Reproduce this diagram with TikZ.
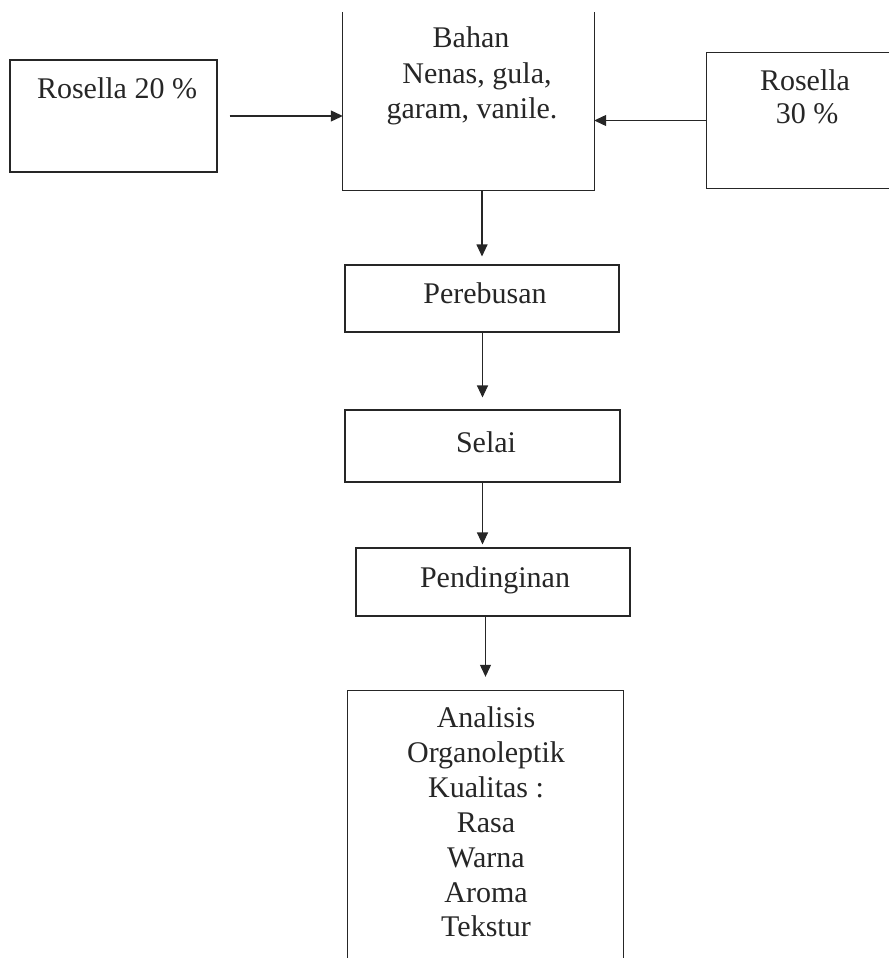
\documentclass[tikz,border=0pt]{standalone}
\usepackage{fontspec}
\setmainfont{Liberation Serif}
\usetikzlibrary{arrows.meta}
\definecolor{ink}{HTML}{262626}
\begin{document}
\begin{tikzpicture}[x=1pt,y=-1pt,
  box/.style={rectangle, inner sep=0pt, draw=ink, line width=1.1pt},
  openbox/.style={rectangle, inner sep=0pt, draw=none},
  edge/.style={draw=ink, line width=1.1pt},
  txt/.style={inner sep=0pt, anchor=base, text=ink, font=\fontsize{30}{35}\selectfont},
  arr/.style={draw=ink, line width=1.1pt, -{Triangle[length=12pt,width=11pt]}}
]
\useasboundingbox (0,0) rectangle (889,958);

% boxes
\node[box, minimum width=207pt, minimum height=112pt] (lbox) at (113.5,116) {};
\node[openbox, minimum width=251pt, minimum height=178pt] (top) at (468.5,101) {};
\node[openbox, minimum width=182pt, minimum height=135pt] (rbox) at (798,120.5) {};
\node[box, minimum width=274pt, minimum height=67pt] (rebus) at (482,298.5) {};
\node[box, minimum width=275pt, minimum height=72pt] (selai) at (482.5,446) {};
\node[box, minimum width=274pt, minimum height=68pt] (dingin) at (493,582) {};
\node[openbox, minimum width=275pt, minimum height=267pt] (anal) at (485.5,824.5) {};

% open sides
\draw[edge] (top.north west) -- (top.south west) -- (top.south east) -- (top.north east);
\draw[edge] (rbox.north east) -- (rbox.north west) -- (rbox.south west) -- (rbox.south east);
\draw[edge] (anal.south west) -- (anal.north west) -- (anal.north east) -- (anal.south east);

% texts
\node[txt] (t1) at (117,99) {Rosella 20 \%};
\node[txt] (b1) at (471,48) {Bahan};
\node[txt] (b2) at (477,84) {Nenas, gula,};
\node[txt] (b3) at (472,118) {garam, vanile.};
\node[txt] (r1) at (805,90) {Rosella};
\node[txt] (r2) at (807,123) {30 \%};
\node[txt] (p1) at (485,303) {Perebusan};
\node[txt] (s1) at (486,452) {Selai};
\node[txt] (d1) at (495,587) {Pendinginan};
\foreach \t/\y [count=\i] in {Analisis/727, Organoleptik/762, {Kualitas :}/797, Rasa/832, Warna/867, Aroma/902, Tekstur/936}
  \node[txt, name=an\i] at (486,\y) {\t};

% connectors
\draw[arr, shorten <=12pt] (lbox.east) -- (lbox.east -| top.west);
\draw[arr] (rbox.west) -- (rbox.west -| top.east);
\draw[arr, shorten >=8pt] (rebus.north |- top.south) -- (rebus.north);
\draw[arr, shorten >=12pt] (selai.north |- rebus.south) -- (selai.north);
\draw[arr, shorten >=3pt] (selai.south) -- (selai.south |- dingin.north);
\draw[arr, shorten >=14pt] (anal.north |- dingin.south) -- (anal.north);
\end{tikzpicture}
\end{document}
